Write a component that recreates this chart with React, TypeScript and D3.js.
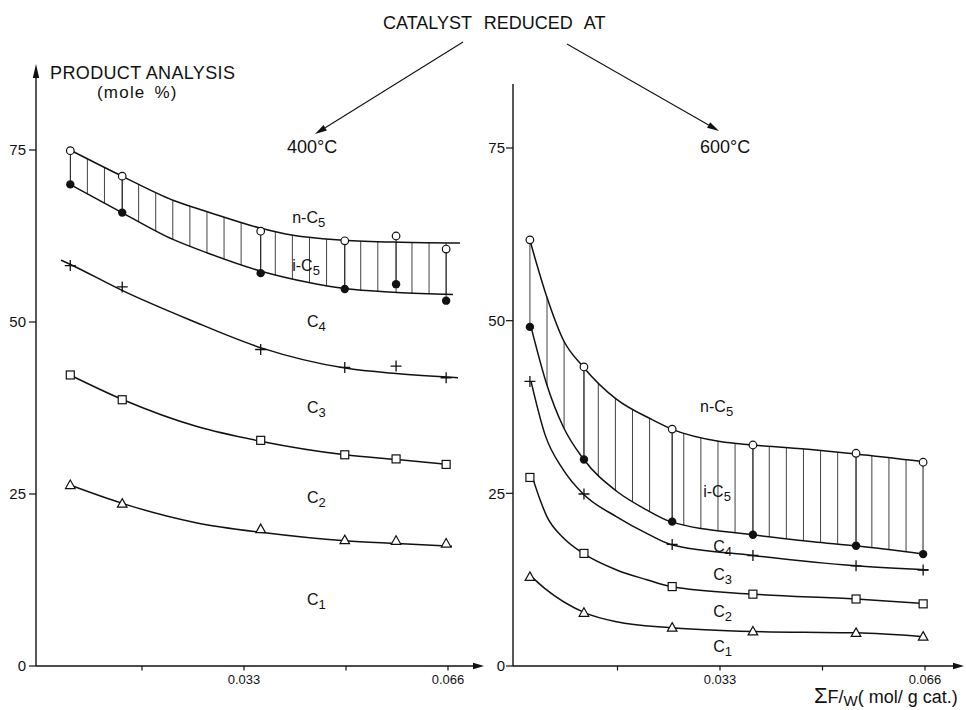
import React from "react";
import * as d3 from "d3";

const W = 966;
const H = 710;

// ---------- shared axis data ----------
const yTickValues = [0, 25, 50, 75];
const xTickValues = [0.0165, 0.033, 0.0495, 0.066];
const xTickLabels = ["", "0.033", "", "0.066"];

// ---------- left panel: catalyst reduced at 400 °C ----------
const xLeft = [0.0049, 0.0133, 0.0357, 0.0493, 0.0576, 0.0657];
const nC5Left = [74.9, 71.2, 63.2, 61.8, 62.5, 60.6];
const iC5Left = [70.0, 65.9, 57.1, 54.8, 55.5, 53.1];
const c4Left = [58.2, 55.1, 46.0, 43.4, 43.6, 41.9];
const c3Left = [42.3, 38.7, 32.8, 30.7, 30.1, 29.3];
const c2Left = [26.3, 23.6, 19.9, 18.3, 18.2, 17.8];

// fitted (hand-drawn) curves
const fitNLeftX = [0.00485, 0.01326, 0.02151, 0.02718, 0.03543, 0.04093, 0.04901, 0.0584, 0.06794];
const fitNLeftY = [75.0, 71.2, 67.7, 66.0, 63.7, 62.6, 61.9, 61.6, 61.5];
const fitILeftX = [0.00485, 0.01326, 0.02151, 0.02718, 0.03607, 0.04368, 0.04901, 0.05775, 0.06681];
const fitILeftY = [70.0, 65.9, 62.0, 60.0, 57.3, 55.7, 54.9, 54.3, 54.0];
const fitC4LeftX = [0.0034, 0.00485, 0.01326, 0.02427, 0.03591, 0.04934, 0.05759, 0.06762];
const fitC4LeftY = [59.0, 58.4, 54.6, 50.3, 46.2, 43.3, 42.5, 41.9];
const fitC3LeftX = [0.00485, 0.01343, 0.0254, 0.03607, 0.04934, 0.05775, 0.06584];
const fitC3LeftY = [42.3, 38.7, 34.8, 32.6, 30.7, 30.0, 29.3];
const fitC2LeftX = [0.00485, 0.01343, 0.0254, 0.03607, 0.04934, 0.05775, 0.06665];
const fitC2LeftY = [26.3, 23.6, 20.8, 19.4, 18.2, 17.8, 17.4];

// ---------- right panel: catalyst reduced at 600 °C ----------
const xRight = [0.0024, 0.0111, 0.0253, 0.0383, 0.0549, 0.0657];
const nC5Right = [61.7, 43.3, 34.3, 32.0, 30.8, 29.5];
const iC5Right = [49.1, 29.9, 20.9, 19.0, 17.4, 16.2];
const c4Right = [41.2, 24.9, 17.6, 16.0, 14.5, 13.9];
const c3Right = [27.3, 16.3, 11.5, 10.4, 9.7, 9.0];
const c2Right = [12.9, 7.7, 5.55, 5.0, 4.8, 4.25];

const fitNRightX = [0.00241, 0.0051, 0.00778, 0.01099, 0.01637, 0.02201, 0.02523, 0.033, 0.03836, 0.04802, 0.05485, 0.06563];
const fitNRightY = [61.6, 53.5, 47.2, 43.3, 38.6, 35.7, 34.3, 32.5, 32.0, 31.3, 30.7, 29.6];
const fitIRightX = [0.00258, 0.0051, 0.00778, 0.01099, 0.01637, 0.0212, 0.02506, 0.03836, 0.04797, 0.05489, 0.06573];
const fitIRightY = [49.1, 40.8, 34.6, 30.0, 25.3, 22.6, 20.9, 19.0, 18.0, 17.4, 16.2];
const fitC4RightX = [0.00258, 0.00483, 0.00778, 0.01099, 0.01637, 0.0212, 0.02506, 0.03836, 0.05489, 0.06653];
const fitC4RightY = [41.2, 33.5, 28.4, 24.9, 21.6, 19.2, 17.6, 16.0, 14.5, 13.9];
const fitC3RightX = [0.00285, 0.00402, 0.0051, 0.00773, 0.01099, 0.01637, 0.0212, 0.02506, 0.03847, 0.05489, 0.06627];
const fitC3RightY = [27.2, 24.1, 21.7, 18.6, 16.3, 13.9, 12.5, 11.5, 10.4, 9.7, 9.0];
const fitC2RightX = [0.00269, 0.00483, 0.01127, 0.01637, 0.02506, 0.03836, 0.05489, 0.06573];
const fitC2RightY = [12.9, 11.2, 7.7, 6.4, 5.55, 5.0, 4.8, 4.25];

// ---------- curve labels ----------
const labelNames = ["n-C", "i-C", "C", "C", "C", "C"];
const labelSubs = ["5", "5", "4", "3", "2", "1"];
const labelLeftX = [0.0408, 0.0408, 0.0432, 0.0432, 0.0432, 0.0432];
const labelLeftY = [64.4, 57.4, 49.3, 36.8, 23.7, 8.9];
const labelRightX = [0.0298, 0.0303, 0.0319, 0.0319, 0.0319, 0.0319];
const labelRightY = [36.8, 24.5, 16.5, 12.5, 7.1, 2.0];

const FONT = "'Liberation Sans', Arial, Helvetica, sans-serif";
const INK = "#111";

const line = d3.line<[number, number]>().curve(d3.curveMonotoneX);

function Marker({ kind, x, y }: { kind: string; x: number; y: number }) {
  if (kind === "open")
    return <circle cx={x} cy={y} r={3.8} fill="#fff" stroke={INK} strokeWidth={1.2} />;
  if (kind === "filled") return <circle cx={x} cy={y} r={4.2} fill={INK} />;
  if (kind === "plus")
    return (
      <path
        d={`M${x - 5.5},${y}H${x + 5.5}M${x},${y - 5.5}V${y + 5.5}`}
        stroke={INK}
        strokeWidth={1.3}
      />
    );
  if (kind === "square")
    return (
      <rect x={x - 4} y={y - 4} width={8} height={8} fill="#fff" stroke={INK} strokeWidth={1.2} />
    );
  return (
    <path
      d={`M${x},${y - 5}L${x + 4.8},${y + 3.5}L${x - 4.8},${y + 3.5}Z`}
      fill="#fff"
      stroke={INK}
      strokeWidth={1.2}
    />
  );
}

type PanelProps = {
  id: string;
  xs: number[];
  vals: number[][];
  fitsX: number[][];
  fitsY: number[][];
  xScale: d3.ScaleLinear<number, number>;
  yScale: d3.ScaleLinear<number, number>;
  axisX: number;
  axisTop: number;
  axisRight: number;
  topArrow: boolean;
  hatchSteps: number;
  labX: number[];
  labY: number[];
  tickLabelEnd: number;
};

const markerKinds = ["open", "filled", "plus", "square", "triangle"];

function Panel(p: PanelProps) {
  const { xScale: xs, yScale: ys } = p;
  const y0 = ys(0);
  const fitPts = p.fitsX.map((fx, k) =>
    fx.map((x, i) => [xs(x), ys(p.fitsY[k][i])] as [number, number])
  );
  const nP = fitPts[0];
  const iP = fitPts[1];
  const clipBelowN =
    (line(nP) as string) +
    `L${nP[nP.length - 1][0]},${y0 + 20}L${nP[0][0]},${y0 + 20}Z`;
  const clipAboveI =
    (line(iP) as string) + `L${iP[iP.length - 1][0]},0L${iP[0][0]},0Z`;

  const dataPx = p.xs.map((x) => xs(x));
  const hx0 = dataPx[0];
  const hx1 = dataPx[dataPx.length - 1];
  const step = (hx1 - hx0) / p.hatchSteps;
  const hatch = d3
    .range(p.hatchSteps + 1)
    .map((k) => hx0 + step * k)
    .filter((hx) => dataPx.every((dx) => Math.abs(dx - hx) > step / 2));

  return (
    <g>
      <defs>
        <clipPath id={`clipN-${p.id}`}>
          <path d={clipBelowN} />
        </clipPath>
        <clipPath id={`clipI-${p.id}`}>
          <path d={clipAboveI} />
        </clipPath>
      </defs>
      <g clipPath={`url(#clipN-${p.id})`}>
        <g clipPath={`url(#clipI-${p.id})`} stroke={INK} strokeWidth={0.8}>
          {hatch.concat(dataPx).map((hx, i) => (
            <line key={i} x1={hx} x2={hx} y1={40} y2={y0} />
          ))}
        </g>
      </g>
      <g stroke={INK} strokeWidth={0.8}>
        {dataPx.map((dx, i) => (
          <line key={i} x1={dx} x2={dx} y1={ys(p.vals[0][i])} y2={ys(p.vals[1][i])} />
        ))}
      </g>

      <g stroke={INK} strokeWidth={1.4} fill="none">
        <path d={`M${p.axisX},${y0}V${p.axisTop}`} />
        <path d={`M${p.axisX},${y0}H${p.axisRight - 8}`} />
      </g>
      <path
        d={`M${p.axisRight},${y0}L${p.axisRight - 11},${y0 - 3.2}L${p.axisRight - 11},${y0 + 3.2}Z`}
        fill={INK}
      />
      {p.topArrow && (
        <path
          d={`M${p.axisX},${p.axisTop - 4}L${p.axisX - 3.2},${p.axisTop + 10}L${p.axisX + 3.2},${p.axisTop + 10}Z`}
          fill={INK}
        />
      )}
      {yTickValues.map((v) => (
        <g key={v}>
          <line x1={p.axisX - 7} x2={p.axisX} y1={ys(v)} y2={ys(v)} stroke={INK} strokeWidth={1.2} />
          <text
            x={p.tickLabelEnd}
            y={ys(v)}
            dy="0.36em"
            textAnchor="end"
            fontSize={15}
            fontFamily={FONT}
            fill={INK}
          >
            {v}
          </text>
        </g>
      ))}
      {xTickValues.map((v, i) => (
        <g key={v}>
          <line x1={xs(v)} x2={xs(v)} y1={y0} y2={y0 + 4.5} stroke={INK} strokeWidth={1.2} />
          {xTickLabels[i] && (
            <text
              x={xs(v)}
              y={y0 + 18}
              textAnchor="middle"
              fontSize={13}
              fontFamily={FONT}
              fill={INK}
            >
              {xTickLabels[i]}
            </text>
          )}
        </g>
      ))}

      {fitPts.map((pts, k) => (
        <path key={k} d={line(pts) as string} fill="none" stroke={INK} strokeWidth={1.5} />
      ))}

      {p.vals.map((vs, k) =>
        vs.map((v, i) => (
          <Marker key={`${k}-${i}`} kind={markerKinds[k]} x={dataPx[i]} y={ys(v)} />
        ))
      )}

      {labelNames.map((nm, i) => (
        <text
          key={i}
          x={xs(p.labX[i])}
          y={ys(p.labY[i])}
          fontSize={16}
          fontFamily={FONT}
          fill={INK}
        >
          {nm}
          <tspan fontSize={13} dy={4}>
            {labelSubs[i]}
          </tspan>
        </text>
      ))}
    </g>
  );
}

function Arrow({ x1, y1, x2, y2 }: { x1: number; y1: number; x2: number; y2: number }) {
  const a = Math.atan2(y2 - y1, x2 - x1);
  const L = 12;
  const w = 3.2;
  const bx = x2 - L * Math.cos(a);
  const by = y2 - L * Math.sin(a);
  const px = -Math.sin(a) * w;
  const py = Math.cos(a) * w;
  return (
    <g>
      <line x1={x1} y1={y1} x2={bx} y2={by} stroke={INK} strokeWidth={1.1} />
      <path d={`M${x2},${y2}L${bx + px},${by + py}L${bx - px},${by - py}Z`} fill={INK} />
    </g>
  );
}

export default function App() {
  const xL = d3.scaleLinear().domain([0, 0.066]).range([40, 448]);
  const yL = d3.scaleLinear().domain([0, 75]).range([666, 150]);
  const xR = d3.scaleLinear().domain([0, 0.066]).range([515, 925]);
  const yR = d3.scaleLinear().domain([0, 75]).range([666, 148]);

  return (
    <svg
      width={W}
      height={H}
      viewBox={`0 0 ${W} ${H}`}
      style={{ position: "absolute", left: 0, top: 0, background: "#fff" }}
    >
      <rect width={W} height={H} fill="#fff" />
      <Panel
        id="left"
        xs={xLeft}
        vals={[nC5Left, iC5Left, c4Left, c3Left, c2Left]}
        fitsX={[fitNLeftX, fitILeftX, fitC4LeftX, fitC3LeftX, fitC2LeftX]}
        fitsY={[fitNLeftY, fitILeftY, fitC4LeftY, fitC3LeftY, fitC2LeftY]}
        xScale={xL}
        yScale={yL}
        axisX={36}
        axisTop={68}
        axisRight={484}
        topArrow={true}
        hatchSteps={22}
        labX={labelLeftX}
        labY={labelLeftY}
        tickLabelEnd={26}
      />
      <Panel
        id="right"
        xs={xRight}
        vals={[nC5Right, iC5Right, c4Right, c3Right, c2Right]}
        fitsX={[fitNRightX, fitIRightX, fitC4RightX, fitC3RightX, fitC2RightX]}
        fitsY={[fitNRightY, fitIRightY, fitC4RightY, fitC3RightY, fitC2RightY]}
        xScale={xR}
        yScale={yR}
        axisX={513}
        axisTop={84}
        axisRight={964}
        topArrow={false}
        hatchSteps={23}
        labX={labelRightX}
        labY={labelRightY}
        tickLabelEnd={505}
      />

      <text x={383} y={29} fontSize={18} fontFamily={FONT} fill={INK} wordSpacing={7}>
        CATALYST REDUCED AT
      </text>
      <Arrow x1={463} y1={42} x2={315} y2={134} />
      <Arrow x1={567} y1={44} x2={719} y2={131} />
      <text x={287} y={153} fontSize={18} fontFamily={FONT} fill={INK}>
        400°C
      </text>
      <text x={700} y={153} fontSize={18} fontFamily={FONT} fill={INK}>
        600°C
      </text>

      <text
        x={50}
        y={79}
        fontSize={18}
        fontFamily={FONT}
        fill={INK}
        textLength={185}
        lengthAdjust="spacing"
      >
        PRODUCT ANALYSIS
      </text>
      <text
        x={97}
        y={98}
        fontSize={17}
        fontFamily={FONT}
        fill={INK}
        letterSpacing={1.2}
        wordSpacing={3}
      >
        (mole %)
      </text>

      <text x={814} y={703} fontSize={18} fontFamily={FONT} fill={INK}>
        <tspan fontSize={22}>Σ</tspan>
        <tspan>F/</tspan>
        <tspan fontSize={15} dy={3}>
          W
        </tspan>
        <tspan dy={-3}>( mol/ g cat.)</tspan>
      </text>
    </svg>
  );
}
